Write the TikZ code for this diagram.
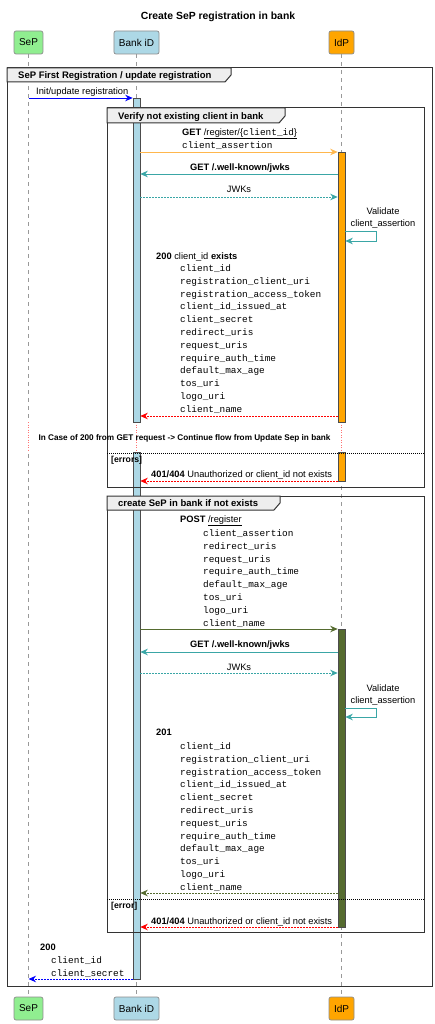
\documentclass[tikz,border=0pt]{standalone}
\usepackage{fontspec}
\setmainfont{Liberation Sans}
\setmonofont{Liberation Mono}
\usetikzlibrary{arrows.meta}
\definecolor{sepgreen}{HTML}{90EE90}
\definecolor{bankblue}{HTML}{ADD8E6}
\definecolor{idporange}{HTML}{FFA500}
\definecolor{idpolive}{HTML}{556B2F}
\definecolor{reqorange}{HTML}{FFB74D}
\definecolor{jwkteal}{HTML}{3AA6A6}
\definecolor{tabgray}{HTML}{EEEEEE}
\definecolor{framegray}{HTML}{333333}
\newcommand{\mono}[1]{{\ttfamily\fontsize{9.4}{12.8}\selectfont #1}}

\begin{document}
\begin{tikzpicture}[x=1pt, y=-1pt, inner sep=0pt, font=\fontsize{9.3}{11}\selectfont,
  party/.style={draw=black!45, line width=0.7pt, rounded corners=2pt, minimum height=23pt, inner xsep=5pt, font=\fontsize{10}{12}\selectfont},
  life/.style={draw=black!40, dash pattern=on 4pt off 4pt, line width=0.6pt},
  actbar/.style={draw=black!70, line width=0.6pt, minimum width=7pt, anchor=north},
  msg/.style={line width=0.8pt, -{Stealth[length=7.5pt,width=6.5pt]}},
  reply/.style={msg, dash pattern=on 1.5pt off 1.5pt},
  fragbox/.style={draw=framegray, line width=1pt},
  tab/.style={draw=framegray, fill=tabgray, line width=1pt},
  lbl/.style={anchor=base west},
  blk/.style={anchor=north west, align=left, font=\ttfamily\fontsize{9.4}{12.8}\selectfont},
  framelbl/.style={anchor=base west, font=\bfseries\fontsize{9.5}{11}\selectfont},
  guard/.style={anchor=base west, font=\bfseries\fontsize{8.7}{10}\selectfont},
  elseline/.style={draw=black, dash pattern=on 1pt off 1pt, line width=0.6pt},
  delayline/.style={draw=red!55, dash pattern=on 1pt off 1.5pt, line width=0.7pt}]
\useasboundingbox (0,0) rectangle (435,1024);

\node (title) [font=\bfseries\fontsize{10.4}{12}\selectfont] at (218,17) {Create SeP registration in bank};
\node (SeP) [party, fill=sepgreen] at (28.5,42.5) {SeP};
\node (Bank) [party, fill=bankblue] at (136.5,42.5) {Bank iD};
\node (IdP) [party, fill=idporange] at (341.5,42.5) {IdP};
\node (SePend) [party, fill=sepgreen] at (28.5,1008.5) {SeP};
\node (Bankend) [party, fill=bankblue] at (136.5,1008.5) {Bank iD};
\node (IdPend) [party, fill=idporange] at (341.5,1008.5) {IdP};
\draw [life] (SeP) -- (SePend);
\draw [life] (Bank) -- (Bankend);
\draw [life] (IdP) -- (IdPend);
\draw [white, line width=1.5pt] (28.5,422) -- (28.5,452);
\draw [white, line width=1.5pt] (136.5,422) -- (136.5,452);
\draw [white, line width=1.5pt] (341.5,422) -- (341.5,452);
\draw [delayline] (28.5,422) -- (28.5,452);
\draw [delayline] (136.5,422) -- (136.5,452);
\draw [delayline] (341.5,422) -- (341.5,452);

\node (bank1) [actbar, fill=bankblue, minimum height=324pt] at (136.5,98) {};
\node (bank2) [actbar, fill=bankblue, minimum height=527pt] at (136.5,452) {};
\node (idp1) [actbar, fill=idporange, minimum height=270pt] at (341.5,152) {};
\node (idp2) [actbar, fill=idporange, minimum height=29pt] at (341.5,452) {};
\node (idp3) [actbar, fill=idpolive, minimum height=298pt] at (341.5,629) {};

\draw [fragbox] (7,68) rectangle (432,986);
\draw [tab] (7,68) -- (231,68) -- (231,75) -- (225,82) -- (7,82) -- cycle;
\node (outerlbl) [framelbl] at (18,78.4) {SeP First Registration / update registration};
\draw [fragbox] (107,108) rectangle (424,487);
\draw [tab] (107,108) -- (285,108) -- (285,116) -- (279,123) -- (107,123) -- cycle;
\node (verifylbl) [framelbl] at (118,119.4) {Verify not existing client in bank};
\draw [elseline] (107,453) -- (424,453);
\node (errors) [guard] at (111,462) {[errors]};
\draw [fragbox] (107,496) rectangle (424,932);
\draw [tab] (107,496) -- (280,496) -- (280,503) -- (274,510) -- (107,510) -- cycle;
\node (createlbl) [framelbl] at (118,506.4) {create SeP in bank if not exists};
\draw [elseline] (107,899) -- (424,899);
\node (error) [guard] at (111,908) {[error]};

\node (init) [lbl] at (36,94.3) {Init/update registration};
\draw [msg, blue] (SeP |- 0,98) -- (bank1.west |- 0,98);

\node (getreg) [lbl] at (182,135.3) {\textbf{GET} \underline{/register/\{\mono{client\_id}\}}};
\node (getregargs) [blk] at (182,141.5) {client\_assertion};
\draw [msg, reqorange] (bank1.east |- 0,152) -- (idp1.west |- 0,152);
\node (jwks1) [anchor=base, font=\bfseries\fontsize{9.3}{11}\selectfont] at (240,170.3) {GET /.well-known/jwks};
\draw [msg, jwkteal] (idp1.west |- 0,174) -- (bank1.east |- 0,174);
\node (keys1) [anchor=base] at (239,192.3) {JWKs};
\draw [reply, jwkteal] (bank1.east |- 0,197) -- (idp1.west |- 0,197);
\node (valid1) [align=center, font=\fontsize{9.3}{12}\selectfont] at (383,218) {Validate\\client\_assertion};
\draw [msg, jwkteal] (idp1.east |- 0,231) -- ++(31,0) -- ++(0,10) -- (idp1.east |- 0,241);
\node (ok1) [lbl] at (156,259.3) {\textbf{200} client\_id \textbf{exists}};
\node (ok1args) [blk] at (180,264.5) {client\_id\\registration\_client\_uri\\registration\_access\_token\\client\_id\_issued\_at\\client\_secret\\redirect\_uris\\request\_uris\\require\_auth\_time\\default\_max\_age\\tos\_uri\\logo\_uri\\client\_name};
\draw [reply, red] (idp1.west |- 0,416) -- (bank1.east |- 0,416);
\node (delay) [anchor=base, font=\bfseries\fontsize{8.2}{10}\selectfont] at (184.5,440) {In Case of 200 from GET request -> Continue flow from Update Sep in bank};
\node (err1) [lbl] at (151,477.3) {\textbf{401/404} Unauthorized or client\_id not exists};
\draw [reply, red] (idp2.west |- 0,481) -- (bank2.east |- 0,481);

\node (post) [lbl] at (180,522.3) {\textbf{POST} \underline{/register}};
\node (postargs) [blk] at (203,529.5) {client\_assertion\\redirect\_uris\\request\_uris\\require\_auth\_time\\default\_max\_age\\tos\_uri\\logo\_uri\\client\_name};
\draw [msg, idpolive] (bank2.east |- 0,629) -- (idp3.west |- 0,629);
\node (jwks2) [anchor=base, font=\bfseries\fontsize{9.3}{11}\selectfont] at (240,647.3) {GET /.well-known/jwks};
\draw [msg, jwkteal] (idp3.west |- 0,652) -- (bank2.east |- 0,652);
\node (keys2) [anchor=base] at (239,670.3) {JWKs};
\draw [reply, jwkteal] (bank2.east |- 0,673) -- (idp3.west |- 0,673);
\node (valid2) [align=center, font=\fontsize{9.3}{12}\selectfont] at (383,695) {Validate\\client\_assertion};
\draw [msg, jwkteal] (idp3.east |- 0,708) -- ++(31,0) -- ++(0,9) -- (idp3.east |- 0,717);
\node (ok2) [lbl] at (156,735.3) {\textbf{201}};
\node (ok2args) [blk] at (180,742.5) {client\_id\\registration\_client\_uri\\registration\_access\_token\\client\_id\_issued\_at\\client\_secret\\redirect\_uris\\request\_uris\\require\_auth\_time\\default\_max\_age\\tos\_uri\\logo\_uri\\client\_name};
\draw [reply, idpolive] (idp3.west |- 0,893) -- (bank2.east |- 0,893);
\node (err2) [lbl] at (151,924.3) {\textbf{401/404} Unauthorized or client\_id not exists};
\draw [reply, red] (idp3.west |- 0,927) -- (bank2.east |- 0,927);

\node (done) [lbl] at (40,950.3) {\textbf{200}};
\node (doneargs) [blk] at (51,956.5) {client\_id\\client\_secret};
\draw [reply, blue] (bank2.west |- 0,979) -- (SeP |- 0,979);
\end{tikzpicture}
\end{document}
